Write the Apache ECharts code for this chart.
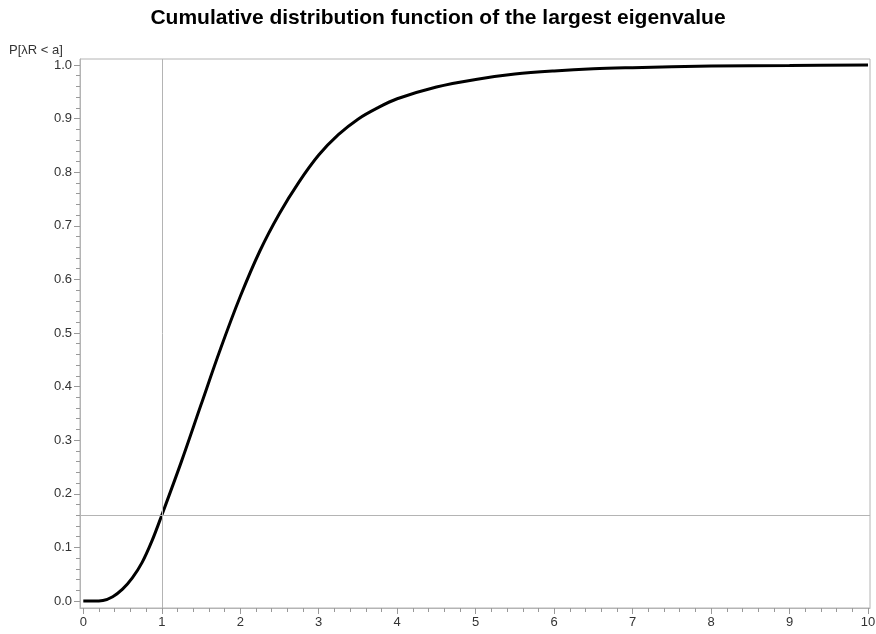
<!DOCTYPE html>
<html><head><meta charset="utf-8">
<script src="https://cdn.jsdelivr.net/npm/echarts@6/dist/echarts.min.js"></script>
<style>html,body{margin:0;padding:0;background:#fff}#c{width:876px;height:634px}</style>
</head><body><div id="c"></div>
<script>
// Data
const xValues = [0, 0.125, 0.25, 0.375, 0.5, 0.625, 0.75, 0.875, 1.0, 1.25, 1.5, 1.75, 2.0, 2.25, 2.5, 2.75, 3.0, 3.25, 3.5, 3.75, 4.0, 4.5, 5.0, 5.5, 6.0, 6.5, 7.0, 8.0, 9.0, 10.0];
const cdfValues = [0, 0, 0.001, 0.008, 0.022, 0.043, 0.072, 0.112, 0.16, 0.26, 0.366, 0.471, 0.568, 0.653, 0.723, 0.782, 0.832, 0.87, 0.899, 0.92, 0.937, 0.959, 0.973, 0.983, 0.989, 0.993, 0.995, 0.998, 0.999, 1.0];
const xTicks = [0, 1, 2, 3, 4, 5, 6, 7, 8, 9, 10];
const yTicks = [0, 0.1, 0.2, 0.3, 0.4, 0.5, 0.6, 0.7, 0.8, 0.9, 1.0];
const refX = 1;
const refY = 0.16;
const titleText = 'Cumulative distribution function of the largest eigenvalue';
const yName = 'P[\u03bbR < a]';

function minors(ticks) {
  const out = [];
  for (let i = 0; i < ticks.length - 1; i++) {
    const step = (ticks[i + 1] - ticks[i]) / 5;
    for (let k = 1; k < 5; k++) out.push(+(ticks[i] + k * step).toFixed(6));
  }
  return out;
}

const chart = echarts.init(document.getElementById('c'), null, {renderer: 'canvas'});
const FONT = 'Liberation Sans, Arial, sans-serif';
const labelStyle = {color: '#333', fontFamily: FONT, fontSize: 13};
const X_MIN = -0.042, X_MAX = 10.025, Y_MIN = -0.0131, Y_MAX = 1.0112;
const lineCol = '#b4b4b4', tickCol = '#999';
chart.setOption({
  animation: false,
  title: [
    {text: titleText, left: 'center', top: 3,
     textStyle: {fontFamily: FONT, fontWeight: 'bold', fontSize: 21, color: '#000'}},
    {text: yName, left: 4, top: 39,
     textStyle: {fontFamily: FONT, fontWeight: 'normal', fontSize: 13, color: '#333'}}
  ],
  grid: {left: 80, right: 6, top: 59, bottom: 26, containLabel: false, outerBoundsMode: 'none',
         show: true, borderColor: lineCol, borderWidth: 1, backgroundColor: 'transparent'},
  xAxis: [
    {type: 'value', min: X_MIN, max: X_MAX, position: 'bottom',
     axisLine: {show: true, onZero: false, lineStyle: {color: lineCol}},
     axisTick: {show: true, length: 6, customValues: xTicks, lineStyle: {color: tickCol}},
     splitLine: {show: false},
     axisLabel: Object.assign({margin: 8, customValues: xTicks}, labelStyle)},
    {type: 'value', min: X_MIN, max: X_MAX, position: 'bottom',
     axisLine: {show: false, onZero: false},
     axisTick: {show: true, length: 4, customValues: minors(xTicks), lineStyle: {color: tickCol}},
     splitLine: {show: false},
     axisLabel: {show: false}}
  ],
  yAxis: [
    {type: 'value', min: Y_MIN, max: Y_MAX, position: 'left',
     axisLine: {show: true, onZero: false, lineStyle: {color: lineCol}},
     axisTick: {show: true, length: 6, customValues: yTicks, lineStyle: {color: tickCol}},
     splitLine: {show: false},
     axisLabel: Object.assign({margin: 8, customValues: yTicks, formatter: v => v.toFixed(1)}, labelStyle)},
    {type: 'value', min: Y_MIN, max: Y_MAX, position: 'left',
     axisLine: {show: false, onZero: false},
     axisTick: {show: true, length: 4, customValues: minors(yTicks), lineStyle: {color: tickCol}},
     splitLine: {show: false},
     axisLabel: {show: false}}
  ],
  series: [{
    type: 'line', xAxisIndex: 0, yAxisIndex: 0,
    data: xValues.map((x, i) => [x, cdfValues[i]]),
    smooth: 0.35, showSymbol: false,
    lineStyle: {color: '#000', width: 3},
    markLine: {
      silent: true, symbol: 'none', label: {show: false},
      lineStyle: {color: lineCol, width: 1, type: 'solid'},
      data: [{xAxis: refX}, {yAxis: refY}]
    },
    z: 3
  }]
});
</script></body></html>
